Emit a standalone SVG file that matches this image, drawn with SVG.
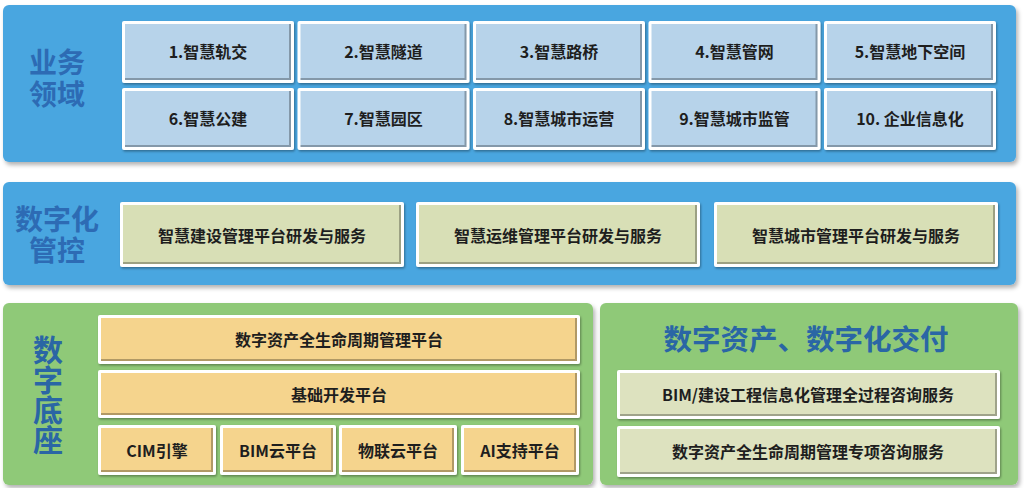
<svg xmlns="http://www.w3.org/2000/svg" width="1024" height="488" viewBox="0 0 1024 488">
<defs>
<filter id="psh" x="-5%" y="-10%" width="110%" height="125%">
<feDropShadow dx="2" dy="3" stdDeviation="2" flood-color="#000" flood-opacity="0.3"/>
</filter>
<filter id="bsh" x="-5%" y="-10%" width="110%" height="130%">
<feDropShadow dx="1" dy="1.5" stdDeviation="1.2" flood-color="#000" flood-opacity="0.35"/>
</filter>
</defs>
<style>
text{font-family:"Microsoft YaHei","Noto Sans CJK SC","Noto Sans",sans-serif;}
.pb{fill:#49a6e0;filter:url(#psh);}
.pg{fill:#8fc978;filter:url(#psh);}
.lab{fill:#2d6bb4;font-weight:700;text-anchor:middle;}
.lab2{fill:#2a66a5;font-weight:700;text-anchor:middle;dominant-baseline:central;}
.vert{fill:#2a66a5;font-weight:700;text-anchor:middle;writing-mode:vertical-rl;}
.fr{fill:#ffffff;filter:url(#bsh);}
.fb{fill:#b7d3ea;}
.fk{fill:#d8dfb6;}
.fo{fill:#f5d48d;}
.fp{fill:#dde2bf;}
.ed{fill:none;stroke:#000;stroke-opacity:0.28;stroke-width:2;}
.bt{fill:#1e1e1e;font-weight:700;text-anchor:middle;dominant-baseline:central;font-size:16px;}
</style>
<rect width="1024" height="488" fill="#ffffff"/>

<g id="panel-business">
<rect class="pb" x="3" y="5" width="1013" height="157" rx="6"/>
<text class="lab" font-size="28"><tspan x="57" y="73">业务</tspan><tspan x="57" y="105">领域</tspan></text>
</g>
<g id="b1"><rect class="fr" x="122" y="21" width="172" height="62" rx="2"/><rect class="fb" x="125" y="24" width="166" height="56"/><path class="ed" d="M125 79H290V24"/><text class="bt" x="208" y="51">1.智慧轨交</text></g>
<g id="b2"><rect class="fr" x="297.5" y="21" width="172" height="62" rx="2"/><rect class="fb" x="300.5" y="24" width="166" height="56"/><path class="ed" d="M300.5 79H465.5V24"/><text class="bt" x="383.5" y="51">2.智慧隧道</text></g>
<g id="b3"><rect class="fr" x="473" y="21" width="172" height="62" rx="2"/><rect class="fb" x="476" y="24" width="166" height="56"/><path class="ed" d="M476 79H641V24"/><text class="bt" x="559" y="51">3.智慧路桥</text></g>
<g id="b4"><rect class="fr" x="648.5" y="21" width="172" height="62" rx="2"/><rect class="fb" x="651.5" y="24" width="166" height="56"/><path class="ed" d="M651.5 79H816.5V24"/><text class="bt" x="734.5" y="51">4.智慧管网</text></g>
<g id="b5"><rect class="fr" x="824" y="21" width="172" height="62" rx="2"/><rect class="fb" x="827" y="24" width="166" height="56"/><path class="ed" d="M827 79H992V24"/><text class="bt" x="910" y="51">5.智慧地下空间</text></g>
<g id="b6"><rect class="fr" x="122" y="88" width="172" height="62" rx="2"/><rect class="fb" x="125" y="91" width="166" height="56"/><path class="ed" d="M125 146H290V91"/><text class="bt" x="208" y="118">6.智慧公建</text></g>
<g id="b7"><rect class="fr" x="297.5" y="88" width="172" height="62" rx="2"/><rect class="fb" x="300.5" y="91" width="166" height="56"/><path class="ed" d="M300.5 146H465.5V91"/><text class="bt" x="383.5" y="118">7.智慧园区</text></g>
<g id="b8"><rect class="fr" x="473" y="88" width="172" height="62" rx="2"/><rect class="fb" x="476" y="91" width="166" height="56"/><path class="ed" d="M476 146H641V91"/><text class="bt" x="559" y="118">8.智慧城市运营</text></g>
<g id="b9"><rect class="fr" x="648.5" y="88" width="172" height="62" rx="2"/><rect class="fb" x="651.5" y="91" width="166" height="56"/><path class="ed" d="M651.5 146H816.5V91"/><text class="bt" x="734.5" y="118">9.智慧城市监管</text></g>
<g id="b10"><rect class="fr" x="824" y="88" width="172" height="62" rx="2"/><rect class="fb" x="827" y="91" width="166" height="56"/><path class="ed" d="M827 146H992V91"/><text class="bt" x="910" y="118">10. 企业信息化</text></g>

<g id="panel-control">
<rect class="pb" x="3" y="182" width="1013" height="103" rx="6"/>
<text class="lab" font-size="28"><tspan x="57" y="230">数字化</tspan><tspan x="57" y="261">管控</tspan></text>
</g>
<g id="c1"><rect class="fr" x="120" y="202" width="284" height="65" rx="2"/><rect class="fk" x="123" y="205" width="278" height="59"/><path class="ed" d="M123 263H400V205"/><text class="bt" x="262" y="235" font-size="17">智慧建设管理平台研发与服务</text></g>
<g id="c2"><rect class="fr" x="416" y="202" width="284" height="65" rx="2"/><rect class="fk" x="419" y="205" width="278" height="59"/><path class="ed" d="M419 263H696V205"/><text class="bt" x="558" y="235" font-size="17">智慧运维管理平台研发与服务</text></g>
<g id="c3"><rect class="fr" x="714" y="202" width="284" height="65" rx="2"/><rect class="fk" x="717" y="205" width="278" height="59"/><path class="ed" d="M717 263H994V205"/><text class="bt" x="856" y="235" font-size="17">智慧城市管理平台研发与服务</text></g>

<g id="panel-base">
<rect class="pg" x="3" y="303" width="590" height="182" rx="6"/>
<text class="vert" x="48" y="395" font-size="30">数字底座</text>
</g>
<g id="d1"><rect class="fr" x="98" y="315" width="482" height="49" rx="2"/><rect class="fo" x="101" y="318" width="476" height="43"/><path class="ed" d="M101 360H576V318"/><text class="bt" x="339" y="339">数字资产全生命周期管理平台</text></g>
<g id="d2"><rect class="fr" x="98" y="370" width="482" height="48" rx="2"/><rect class="fo" x="101" y="373" width="476" height="42"/><path class="ed" d="M101 414H576V373"/><text class="bt" x="339" y="394">基础开发平台</text></g>
<g id="d3"><rect class="fr" x="98" y="425" width="118" height="50" rx="2"/><rect class="fo" x="101" y="428" width="112" height="44"/><path class="ed" d="M101 471H212V428"/><text class="bt" x="157" y="450">CIM引擎</text></g>
<g id="d4"><rect class="fr" x="220" y="425" width="116" height="50" rx="2"/><rect class="fo" x="223" y="428" width="110" height="44"/><path class="ed" d="M223 471H332V428"/><text class="bt" x="278" y="450">BIM云平台</text></g>
<g id="d5"><rect class="fr" x="339" y="425" width="118" height="50" rx="2"/><rect class="fo" x="342" y="428" width="112" height="44"/><path class="ed" d="M342 471H453V428"/><text class="bt" x="398" y="450">物联云平台</text></g>
<g id="d6"><rect class="fr" x="461" y="425" width="118" height="50" rx="2"/><rect class="fo" x="464" y="428" width="112" height="44"/><path class="ed" d="M464 471H575V428"/><text class="bt" x="520" y="450">AI支持平台</text></g>

<g id="panel-delivery">
<rect class="pg" x="600" y="303" width="418" height="182" rx="6"/>
<text class="lab2" x="806" y="337" font-size="28.5">数字资产、数字化交付</text>
</g>
<g id="e1"><rect class="fr" x="617" y="370" width="383" height="49" rx="2"/><rect class="fp" x="620" y="373" width="377" height="43"/><path class="ed" d="M620 415H996V373"/><text class="bt" x="808" y="394">BIM/建设工程信息化管理全过程咨询服务</text></g>
<g id="e2"><rect class="fr" x="617" y="426" width="383" height="51" rx="2"/><rect class="fp" x="620" y="429" width="377" height="45"/><path class="ed" d="M620 473H996V429"/><text class="bt" x="808" y="451">数字资产全生命周期管理专项咨询服务</text></g>
</svg>
